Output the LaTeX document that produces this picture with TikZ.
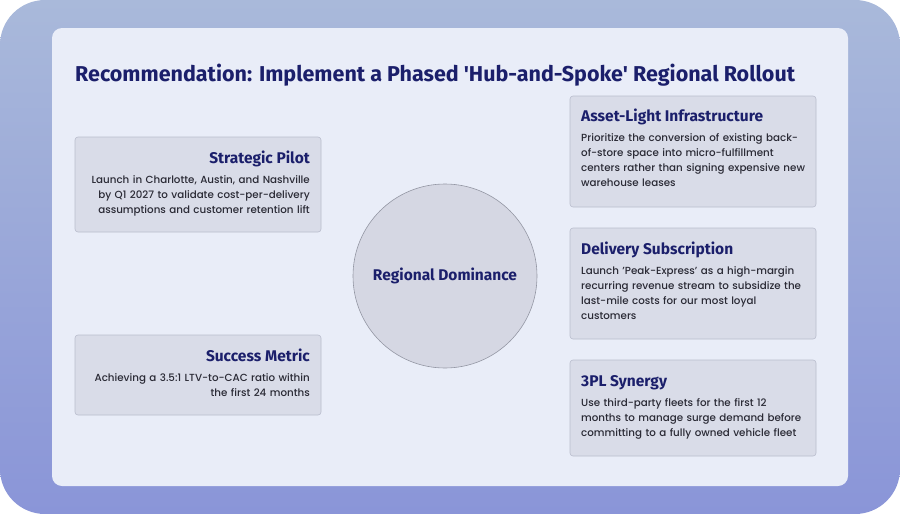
\documentclass[tikz,border=0pt]{standalone}
\usepackage{fontspec}
\setmainfont{Poppins}[UprightFont={* Medium},BoldFont={* Bold}]
\newfontfamily\headfont{Fira Sans}
\definecolor{navy}{HTML}{1B1F6B}
\definecolor{panel}{HTML}{E9EDF8}
\definecolor{boxfill}{HTML}{D9DCE8}
\definecolor{boxline}{HTML}{B9BDCD}
\definecolor{bgA}{HTML}{A9B9DA}
\definecolor{bgB}{HTML}{8A95D8}
\definecolor{txt}{HTML}{2A2A35}
\begin{document}
\begin{tikzpicture}[x=1pt,y=-1pt,
  card/.style={draw=boxline,fill=boxfill,rounded corners=3pt,line width=0.6pt},
  ttl/.style={font=\headfont\bfseries\fontsize{15.5}{18}\selectfont,text=navy,inner sep=0pt},
  body/.style={font=\fontsize{10.3}{15}\selectfont,text=txt,inner sep=0pt,text width=228pt}]
\useasboundingbox (0,0) rectangle (900,514);
\shade[top color=bgA,bottom color=bgB,rounded corners=45pt] (0,0) rectangle (900,514);
\fill[panel,rounded corners=10pt] (52,28) rectangle (848,486);
\node[anchor=base west,font=\headfont\bfseries\fontsize{21.5}{24}\selectfont,text=navy,inner sep=0pt] (title) at (75,81) {Recommendation: Implement a Phased 'Hub-and-Spoke' Regional Rollout};
% center circle
\node[circle,draw=boxline!80!black,fill=boxfill!95!gray,minimum size=184pt,line width=0.6pt,font=\headfont\bfseries\fontsize{15.5}{18}\selectfont,text=navy] (hub) at (445,276) {Regional Dominance};
% left cards
\draw[card] (75,137) rectangle (321,232);
\node[ttl,anchor=base east] (t1) at (310,163) {Strategic Pilot};
\node[body,anchor=north east,align=right] (b1) at (310,175) {Launch in Charlotte, Austin, and Nashville\\by Q1 2027 to validate cost-per-delivery\\assumptions and customer retention lift};
\draw[card] (75,335) rectangle (321,415);
\node[ttl,anchor=base east] (t2) at (310,361) {Success Metric};
\node[body,anchor=north east,align=right] (b2) at (310,373) {Achieving a 3.5:1 LTV-to-CAC ratio within\\the first 24 months};
% right cards
\draw[card] (570,96) rectangle (816,207);
\node[ttl,anchor=base west] (t3) at (581,121) {Asset-Light Infrastructure};
\node[body,anchor=north west,align=left] (b3) at (581,133) {Prioritize the conversion of existing back-\\of-store space into micro-fulfillment\\centers rather than signing expensive new\\warehouse leases};
\draw[card] (570,228) rectangle (816,339);
\node[ttl,anchor=base west] (t4) at (581,254) {Delivery Subscription};
\node[body,anchor=north west,align=left] (b4) at (581,266) {Launch 'Peak-Express' as a high-margin\\recurring revenue stream to subsidize the\\last-mile costs for our most loyal\\customers};
\draw[card] (570,360) rectangle (816,456);
\node[ttl,anchor=base west] (t5) at (581,386) {3PL Synergy};
\node[body,anchor=north west,align=left] (b5) at (581,398) {Use third-party fleets for the first 12\\months to manage surge demand before\\committing to a fully owned vehicle fleet};
\end{tikzpicture}
\end{document}
